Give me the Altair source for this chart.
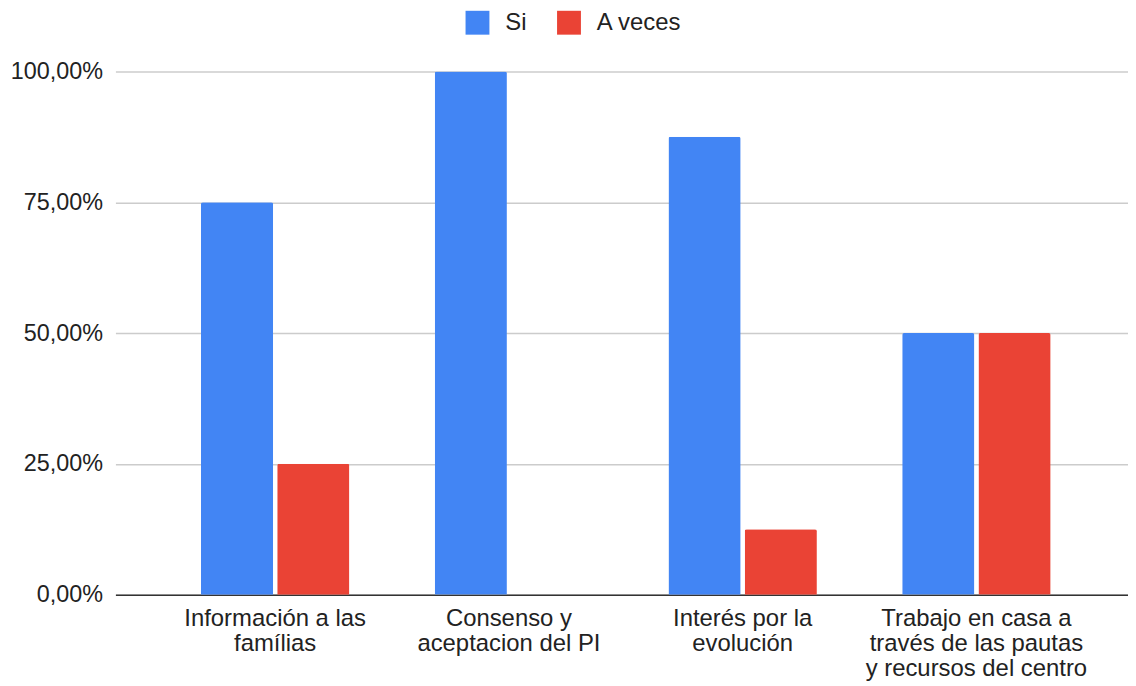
import altair as alt
import pandas as pd

categories = [
    "Información a las\nfamílias",
    "Consenso y\naceptacion del PI",
    "Interés por la\nevolución",
    "Trabajo en casa a\ntravés de las pautas\ny recursos del centro",
]
series = ["Si", "A veces"]
si_values = [0.75, 1.00, 0.875, 0.50]
aveces_values = [0.25, 0.0, 0.125, 0.50]
colors = ["#4285F4", "#EA4335"]
y_ticks = [0, 0.25, 0.5, 0.75, 1.0]

rows = []
for c, a, b in zip(categories, si_values, aveces_values):
    rows.append({"cat": c, "serie": "Si", "val": a})
    rows.append({"cat": c, "serie": "A veces", "val": b})
df = pd.DataFrame(rows)

FONT = "Liberation Sans"

chart = (
    alt.Chart(df)
    .mark_bar(cornerRadiusTopLeft=2, cornerRadiusTopRight=2)
    .encode(
        x=alt.X(
            "cat:N",
            sort=categories,
            title=None,
            scale=alt.Scale(paddingInner=0.365, paddingOuter=0.3485, align=0.525),
            axis=alt.Axis(
                labelAngle=0,
                labelExpr="split(datum.label, '\\n')",
                labelLineHeight=25,
                labelFontSize=24,
                labelFont=FONT,
                labelColor="#222222",
                labelPadding=12,
                ticks=False,
                domainColor="#333333",
                domainWidth=1.5,
                grid=False,
                labelLimit=400,
            ),
        ),
        xOffset=alt.XOffset(
            "serie:N", sort=series, scale=alt.Scale(paddingInner=0.053, paddingOuter=0)
        ),
        y=alt.Y(
            "val:Q",
            title=None,
            scale=alt.Scale(domain=[0, 1], nice=False),
            axis=alt.Axis(
                values=y_ticks,
                labelExpr="replace(format(datum.value, '.2%'), '.', ',')",
                labelFontSize=23.5,
                labelFont=FONT,
                labelColor="#222222",
                labelPadding=13,
                ticks=False,
                domain=False,
                gridColor="#cccccc",
                gridWidth=1.5,
            ),
        ),
        color=alt.Color(
            "serie:N",
            sort=series,
            scale=alt.Scale(domain=series, range=colors),
            legend=alt.Legend(
                title=None,
                orient="none",
                direction="horizontal",
                legendX=352,
                legendY=-61,
                symbolType="square",
                symbolSize=576,
                symbolStrokeWidth=0,
                symbolOpacity=1,
                labelFontSize=24,
                labelFont=FONT,
                labelColor="#222222",
                labelOffset=16,
                columnPadding=30,
                padding=0,
            ),
        ),
    )
    .properties(
        width=1018,
        height=526,
        autosize=alt.AutoSizeParams(type="none"),
        padding={"left": 108, "top": 62, "right": 0, "bottom": 86},
    )
    .configure_view(stroke=None)
    .configure_axis(gridColor="#cccccc")
)

chart.save("out.html", embed_options={"renderer": "svg", "actions": False})
